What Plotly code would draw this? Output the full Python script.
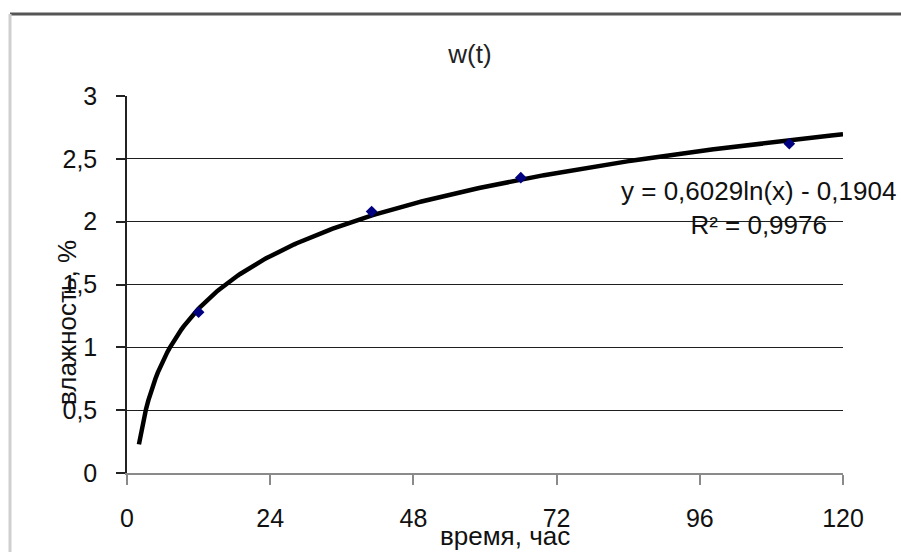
import numpy as np
import plotly.graph_objects as go

# ---- data ----
time_h = [12, 41, 66, 111]
moisture = [1.28, 2.08, 2.35, 2.62]

# logarithmic trendline shown on the chart: y = 0,6029 ln(x) - 0,1904
trend_a = 0.6029
trend_b = -0.1904
trend_x_start = 2
trend_x_end = 120

x_tick_vals = [0, 24, 48, 72, 96, 120]
x_tick_text = ["0", "24", "48", "72", "96", "120"]
y_tick_vals = [0, 0.5, 1, 1.5, 2, 2.5, 3]
y_tick_text = ["0", "0,5", "1", "1,5", "2", "2,5", "3"]

title_text = "w(t)"
x_title = "время, час"
y_title = "влажность, %"
eq_text = "y = 0,6029ln(x) - 0,1904<br>R² = 0,9976"

# ---- layout geometry (pixels) ----
W, H = 901, 552
L, R, T, B = 127, 58, 96, 79
PW = W - L - R
PH = H - T - B


def px(xp):
    return (xp - L) / PW


def py(yp):
    return (H - B - yp) / PH


FONT = "Liberation Sans, Arial, sans-serif"

tx = np.linspace(trend_x_start, trend_x_end, 300)
ty = trend_a * np.log(tx) + trend_b

fig = go.Figure()
fig.add_trace(go.Scatter(
    x=tx, y=ty, mode="lines",
    line=dict(color="black", width=4.5),
    hoverinfo="skip", showlegend=False,
))
fig.add_trace(go.Scatter(
    x=time_h, y=moisture, mode="markers",
    marker=dict(symbol="diamond", size=9, color="#000080"),
    showlegend=False,
))

fig.update_layout(
    width=W, height=H,
    margin=dict(l=L, r=R, t=T, b=B),
    paper_bgcolor="white", plot_bgcolor="white",
    font=dict(family=FONT, size=25, color="#111"),
    showlegend=False,
    title=dict(text=title_text, x=470 / W, xanchor="center",
               y=1 - 54 / H, yanchor="middle",
               font=dict(family=FONT, size=26, color="#222")),
    xaxis=dict(
        range=[0, 120], tickmode="array", tickvals=x_tick_vals, ticktext=x_tick_text,
        showgrid=False, zeroline=False,
        showline=True, linecolor="#8a8a8a", linewidth=2,
        ticks="outside", ticklen=10, tickcolor="#8a8a8a", tickwidth=2,
        ticklabelstandoff=12,
        tickfont=dict(family=FONT, size=25, color="#111"),
    ),
    yaxis=dict(
        range=[0, 3], tickmode="array", tickvals=y_tick_vals, ticktext=y_tick_text,
        showgrid=True, gridcolor="#1e1e1e", gridwidth=1.2,
        zeroline=False,
        showline=True, linecolor="#222", linewidth=1.5,
        ticks="outside", ticklen=9, tickcolor="#222", tickwidth=1.5,
        ticklabelstandoff=14,
        tickfont=dict(family=FONT, size=25, color="#111"),
    ),
)

annotations = [
    dict(text=eq_text, x=px(758), y=py(208), xref="paper", yref="paper",
         xanchor="center", yanchor="middle", showarrow=False, align="center",
         font=dict(family=FONT, size=26, color="#111")),
    dict(text=x_title, x=px(505), y=py(536), xref="paper", yref="paper",
         xanchor="center", yanchor="middle", showarrow=False,
         font=dict(family=FONT, size=26, color="#111")),
    dict(text=y_title, x=px(67), y=py(323), xref="paper", yref="paper",
         xanchor="center", yanchor="middle", showarrow=False, textangle=-90,
         font=dict(family=FONT, size=26, color="#111")),
]
fig.update_layout(annotations=annotations)

# outer frame lines of the scanned chart
fig.add_shape(type="line", xref="paper", yref="paper",
              x0=px(10), x1=px(W + 5), y0=py(14), y1=py(14),
              line=dict(color="#555", width=3), layer="above")
fig.add_shape(type="line", xref="paper", yref="paper",
              x0=px(10), x1=px(10), y0=py(14), y1=py(H + 5),
              line=dict(color="#cfcfcf", width=3), layer="above")

fig.write_html("out.html",
               config={"displayModeBar": False},
               post_script="document.body.style.margin='0';document.body.style.overflow='hidden';")
